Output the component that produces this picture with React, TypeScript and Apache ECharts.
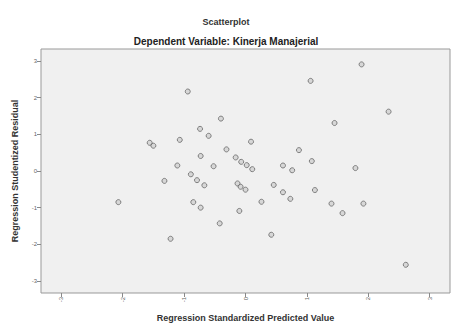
import React, { useEffect, useRef } from "react";
import * as echarts from "echarts";

const xValues = [
  -0.94, -0.4, -0.74, -0.6, -1.07, -1.56, -1.5, -0.31, -0.73, -0.16, -0.07, 0.02,
  0.11, -1.11, -0.52, 0.09, 1.89, 1.06, 2.33, 1.45, 0.87, 1.08, 0.61, 0.76, 1.79,
  -0.89, -1.32, -0.79, -0.67, -0.13, -0.08, 0.0, -2.07, -0.85, -0.73, -0.1, -0.42,
  -1.22, 0.46, 0.61, 0.73, 1.13, 0.26, 1.4, 1.92, 1.58, 0.42, 2.61,
];
const yValues = [
  2.17, 1.43, 1.15, 0.96, 0.85, 0.77, 0.69, 0.59, 0.41, 0.37, 0.25, 0.16, 0.05,
  0.15, 0.13, 0.8, 2.91, 2.46, 1.62, 1.31, 0.57, 0.27, 0.15, 0.02, 0.08, -0.09,
  -0.27, -0.25, -0.39, -0.34, -0.43, -0.51, -0.85, -0.85, -1.0, -1.09, -1.43,
  -1.85, -0.38, -0.58, -0.76, -0.52, -0.84, -0.89, -0.89, -1.15, -1.74, -2.56,
];
const xTicks = [-3, -2, -1, 0, 1, 2, 3];
const yTicks = [-3, -2, -1, 0, 1, 2, 3];

export default function App() {
  const ref = useRef<HTMLDivElement>(null);
  useEffect(() => {
    document.body.style.margin = "0";
    const chart = echarts.init(ref.current!, null, { renderer: "svg" });
    const data = xValues.map((x, i) => [x, yValues[i]]);
    const font = "Arial, 'Liberation Sans', sans-serif";
    chart.setOption({
      animation: false,
      backgroundColor: "#ffffff",
      title: [
        {
          text: "Scatterplot",
          left: "center",
          top: 12,
          textStyle: { fontSize: 9, fontWeight: "bold", color: "#333", fontFamily: font },
        },
        {
          text: "Dependent Variable: Kinerja Manajerial",
          left: "center",
          top: 31,
          textStyle: { fontSize: 10, fontWeight: "bold", color: "#222", fontFamily: font },
        },
      ],
      grid: {
        left: 41,
        right: 2,
        top: 49,
        bottom: 29,
        show: true,
        backgroundColor: "#f0f0f0",
        borderColor: "#999",
        borderWidth: 1,
      },
      xAxis: {
        type: "value",
        min: -3.33,
        max: 3.33,
        name: "Regression Standardized Predicted Value",
        nameLocation: "middle",
        nameGap: 20,
        nameTextStyle: { fontSize: 9, fontWeight: "bold", color: "#333", fontFamily: font },
        axisLine: { show: false, onZero: false },
        splitLine: { show: false },
        axisTick: { show: true, length: 4, customValues: xTicks, lineStyle: { color: "#888" } },
        axisLabel: {
          customValues: xTicks,
          rotate: 90,
          fontSize: 6,
          color: "#666",
          margin: 4,
          fontFamily: font,
        },
      },
      yAxis: {
        type: "value",
        min: -3.33,
        max: 3.33,
        name: "Regression Studentized Residual",
        nameLocation: "middle",
        nameGap: 22,
        nameTextStyle: { fontSize: 9, fontWeight: "bold", color: "#333", fontFamily: font },
        axisLine: { show: false, onZero: false },
        splitLine: { show: false },
        axisTick: { show: true, length: 4, customValues: yTicks, lineStyle: { color: "#888" } },
        axisLabel: {
          customValues: yTicks,
          fontSize: 6,
          color: "#666",
          margin: 4,
          fontFamily: font,
        },
      },
      series: [
        {
          type: "scatter",
          data,
          symbol: "circle",
          symbolSize: 5,
          itemStyle: { color: "rgba(150,150,150,0.35)", borderColor: "#666", borderWidth: 1 },
        },
      ],
    });
    return () => chart.dispose();
  }, []);
  return (
    <div
      ref={ref}
      style={{ position: "fixed", left: 0, top: 0, width: 452, height: 327 }}
    />
  );
}
